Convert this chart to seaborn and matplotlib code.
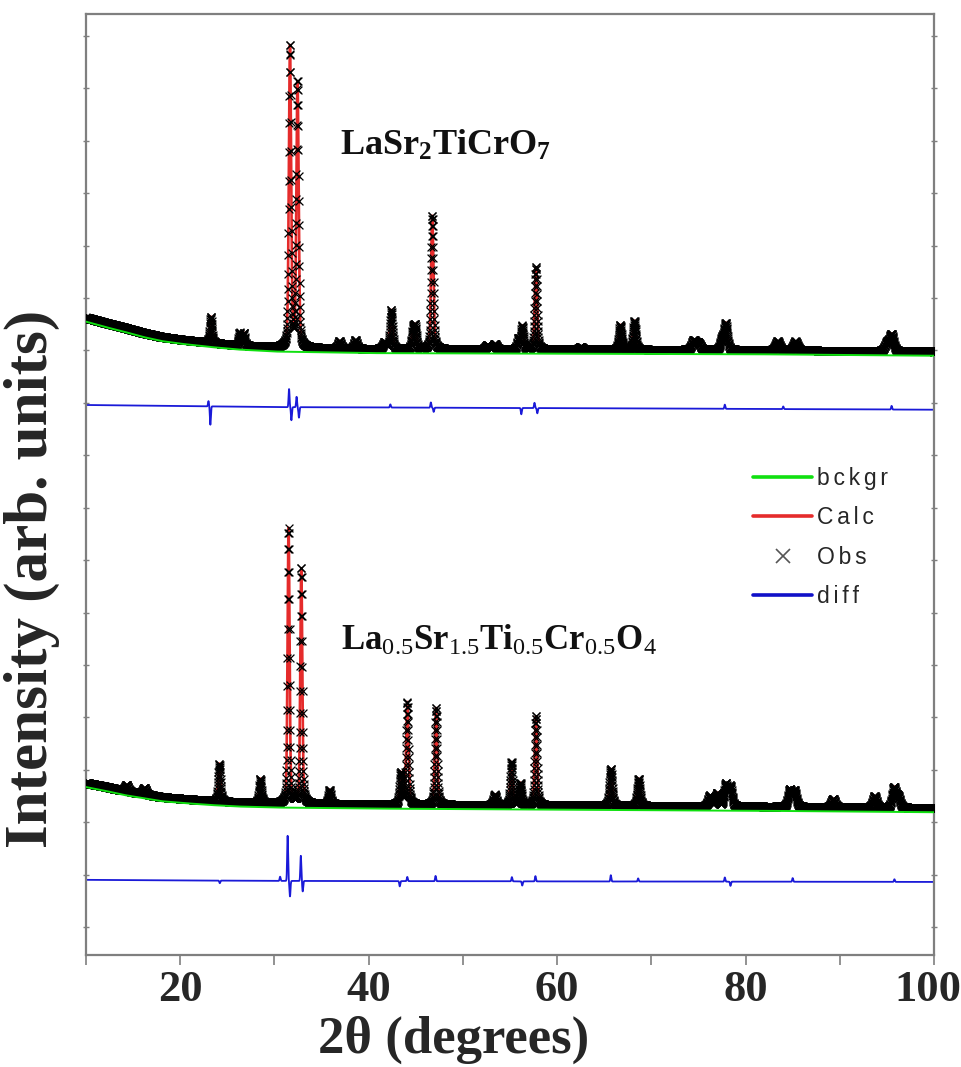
import numpy as np
import pandas as pd
import matplotlib
matplotlib.use("Agg")
import matplotlib.pyplot as plt
import matplotlib.transforms as mtransforms
from matplotlib.lines import Line2D
from matplotlib.ticker import MultipleLocator
import seaborn as sns

# ---------------- data (arbitrary intensity units) -------------
two_theta_step = 0.02

# upper pattern: LaSr2TiCrO7
bg1_x = [10, 12, 14, 16, 18, 20, 23, 26, 30, 40, 60, 80, 100]
bg1_y = [11.55, 11.45, 11.36, 11.26, 11.18, 11.13, 11.07, 11.02, 10.98, 10.95, 10.94, 10.93, 10.90]
obs1_offset = 0.08
pk1_pos = [23.25, 26.3, 26.75, 31.65, 32.45, 36.9, 38.6, 41.7, 42.4, 44.7, 44.95, 46.75, 52.6, 53.4,
           55.9, 56.3, 57.75, 62.5, 66.7, 68.2, 74.5, 75.0, 77.5, 77.9, 83.4, 85.3, 95.0, 95.5]
pk1_hgt = [0.50, 0.24, 0.24, 5.75, 5.05, 0.14, 0.16, 0.12, 0.74, 0.35, 0.40, 2.55, 0.08, 0.10,
           0.20, 0.44, 1.57, 0.05, 0.47, 0.55, 0.18, 0.12, 0.20, 0.50, 0.17, 0.17, 0.15, 0.32]
pk1_fwhm = [0.28, 0.25, 0.25, 0.28, 0.28, 0.35, 0.35, 0.40, 0.32, 0.30, 0.30, 0.30, 0.40, 0.40,
            0.32, 0.30, 0.30, 0.40, 0.35, 0.35, 0.50, 0.50, 0.40, 0.40, 0.50, 0.50, 0.50, 0.50]
diff1_base_x = [10, 30, 60, 100]
diff1_base_y = [9.96, 9.92, 9.90, 9.87]
d1_pos = [23.0, 23.2, 31.55, 31.8, 32.35, 32.6, 42.3, 46.6, 46.9, 56.2, 57.6, 57.9, 77.8, 84.0, 95.5]
d1_amp = [0.10, -0.35, 0.35, -0.25, 0.20, -0.20, 0.06, 0.10, -0.08, -0.12, 0.10, -0.10, 0.08, 0.05, 0.07]

# lower pattern: La0.5Sr1.5Ti0.5Cr0.5O4
bg2_x = [10, 12, 14, 16, 18, 20, 23, 26, 30, 40, 60, 80, 100]
bg2_y = [2.67, 2.60, 2.52, 2.46, 2.40, 2.37, 2.33, 2.30, 2.28, 2.26, 2.24, 2.22, 2.19]
obs2_offset = 0.08
pk2_pos = [14.3, 16.2, 24.15, 28.5, 31.5, 32.85, 35.85, 43.4, 44.1, 47.15, 53.4, 55.15, 56.1, 57.75,
           65.7, 68.65, 76.2, 77.0, 77.9, 78.4, 84.7, 85.2, 89.3, 93.7, 95.75, 96.2]
pk2_hgt = [0.12, 0.12, 0.72, 0.46, 5.25, 4.50, 0.27, 0.60, 1.95, 1.85, 0.20, 0.82, 0.42, 1.70,
           0.70, 0.52, 0.20, 0.25, 0.42, 0.38, 0.32, 0.30, 0.16, 0.22, 0.38, 0.20]
pk2_fwhm = [0.40, 0.40, 0.30, 0.30, 0.25, 0.25, 0.30, 0.30, 0.30, 0.30, 0.35, 0.30, 0.30, 0.30,
            0.35, 0.35, 0.40, 0.40, 0.40, 0.40, 0.45, 0.45, 0.45, 0.45, 0.45, 0.45]
diff2_base_x = [10, 30, 60, 100]
diff2_base_y = [0.90, 0.88, 0.87, 0.86]
d2_pos = [24.2, 30.6, 31.4, 31.65, 32.8, 33.0, 43.3, 44.1, 47.1, 55.2, 56.3, 57.7, 65.7, 68.6, 77.8, 78.4, 85.0, 95.8]
d2_amp = [-0.05, 0.08, 0.86, -0.30, 0.48, -0.20, -0.10, 0.08, 0.10, 0.08, -0.08, 0.10, 0.12, 0.06, 0.08, -0.08, 0.07, 0.05]

sp = '\u2006'
legend_labels = [sp.join("bckgr"), sp.join("Calc"), sp.join("Obs"), sp.join("diff")]
label1 = r'$\mathbf{LaSr}_{\mathbf{2}}\mathbf{TiCrO}_{\mathbf{7}}$'
label2 = (r'$\mathbf{La}_{\mathrm{0.5}}\mathbf{Sr}_{\mathrm{1.5}}\mathbf{Ti}_{\mathrm{0.5}}'
          r'\mathbf{Cr}_{\mathrm{0.5}}\mathbf{O}_{\mathrm{4}}$')
x_ticks = [20, 40, 60, 80, 100]

# ---------------- profile construction -------------------------------------------------
tt = np.arange(10, 100 + 1e-9, two_theta_step)


def pseudo_voigt(x, pos, fwhm, eta=0.3):
    s = fwhm / 2.3548
    g = np.exp(-0.5 * ((x - pos) / s) ** 2)
    l = 1.0 / (1.0 + ((x - pos) / (fwhm / 2)) ** 2)
    return eta * l + (1 - eta) * g


def pattern(bgx, bgy, off, pos, hgt, fw):
    bg = np.interp(tt, bgx, bgy)
    calc = bg + off
    for p, h, w in zip(pos, hgt, fw):
        calc = calc + h * pseudo_voigt(tt, p, w)
    return bg, calc


def diffcurve(bx, by, pos, amp, w=0.12):
    d = np.interp(tt, bx, by)
    for p, a in zip(pos, amp):
        d = d + a * np.exp(-0.5 * ((tt - p) / (w / 2.3548)) ** 2)
    return d


bg1, calc1 = pattern(bg1_x, bg1_y, obs1_offset, pk1_pos, pk1_hgt, pk1_fwhm)
bg2, calc2 = pattern(bg2_x, bg2_y, obs2_offset, pk2_pos, pk2_hgt, pk2_fwhm)
diff1 = diffcurve(diff1_base_x, diff1_base_y, d1_pos, d1_amp)
diff2 = diffcurve(diff2_base_x, diff2_base_y, d2_pos, d2_amp)

# ---------------- plotting --------------------------------------------------------------
sns.set_style("white")
plt.rcParams['font.family'] = ['Liberation Serif', 'DejaVu Serif']
plt.rcParams['mathtext.fontset'] = 'custom'
plt.rcParams['mathtext.rm'] = 'Liberation Serif'
plt.rcParams['mathtext.bf'] = 'Liberation Serif:bold'
plt.rcParams['mathtext.it'] = 'Liberation Serif:italic'

fig = plt.figure(figsize=(9.61, 10.67), dpi=100)
ax = fig.add_axes([86 / 961, 1 - 955 / 1067, (934 - 86) / 961, (955 - 14) / 1067])

red = '#e52b2b'
green = '#10e010'
blue = '#1a1ad8'

for bg, calc, diff in [(bg1, calc1, diff1), (bg2, calc2, diff2)]:
    sns.lineplot(x=tt, y=calc, ax=ax, color=red, lw=1.9, estimator=None, sort=False, zorder=2)
    sns.scatterplot(x=tt, y=calc, ax=ax, marker='x', color='black', s=32, linewidth=0.9,
                    zorder=3, legend=False)
    sns.lineplot(x=tt, y=bg, ax=ax, color=green, lw=1.4, estimator=None, sort=False, zorder=4)
    sns.lineplot(x=tt, y=diff, ax=ax, color=blue, lw=1.3, estimator=None, sort=False, zorder=2)

ax.set_xlim(10, 100)
ax.set_ylim(-0.534, 17.42)

for side in ['left', 'right', 'top', 'bottom']:
    ax.spines[side].set_visible(True)
    ax.spines[side].set_color('#7f7f7f')
    ax.spines[side].set_linewidth(1.6)

ax.set_xticks(x_ticks)
ax.xaxis.set_minor_locator(MultipleLocator(10))
ax.yaxis.set_major_locator(MultipleLocator(1))
ax.tick_params(axis='x', which='both', bottom=True, top=False, direction='out', length=7,
               width=1.2, color='#7f7f7f', labelsize=32, pad=4)
ax.tick_params(axis='y', which='both', left=True, right=True, labelleft=False, direction='inout',
               length=5, width=1, color='#7f7f7f')
for t in ax.get_xticklabels():
    t.set_fontweight('bold')
last = ax.xaxis.get_major_ticks()[-1].label1
last.set_transform(last.get_transform() + mtransforms.ScaledTranslation(-6 / 100, 0, fig.dpi_scale_trans))

ax.set_xlabel('2θ (degrees)', fontsize=38, fontweight='bold')
ax.xaxis.set_label_coords(0.433, -0.064)
ax.set_ylabel('Intensity (arb. units)', fontsize=44, fontweight='bold')
ax.yaxis.set_label_coords(-0.031, 0.40)

ax.text(36.93, 14.73, label1, fontsize=26, color='#111111', va='baseline', ha='left')
ax.text(37.1, 5.29, label2, fontsize=25, color='#111111', va='baseline', ha='left')

handles = [Line2D([], [], color=green, lw=2.6),
           Line2D([], [], color=red, lw=2.6),
           Line2D([], [], color='#555555', lw=0, marker='x', markersize=10, markeredgewidth=1.2),
           Line2D([], [], color='#1010c8', lw=2.6)]
leg = ax.legend(handles=handles, labels=legend_labels, loc='upper left',
                bbox_to_anchor=(0.7866, 0.519), frameon=False, handlelength=2.58,
                handletextpad=0.22, labelspacing=0.72, borderpad=0, borderaxespad=0,
                prop={'family': ['Liberation Sans', 'DejaVu Sans'], 'size': 16.5})

fig.savefig('out.png', dpi=100)
